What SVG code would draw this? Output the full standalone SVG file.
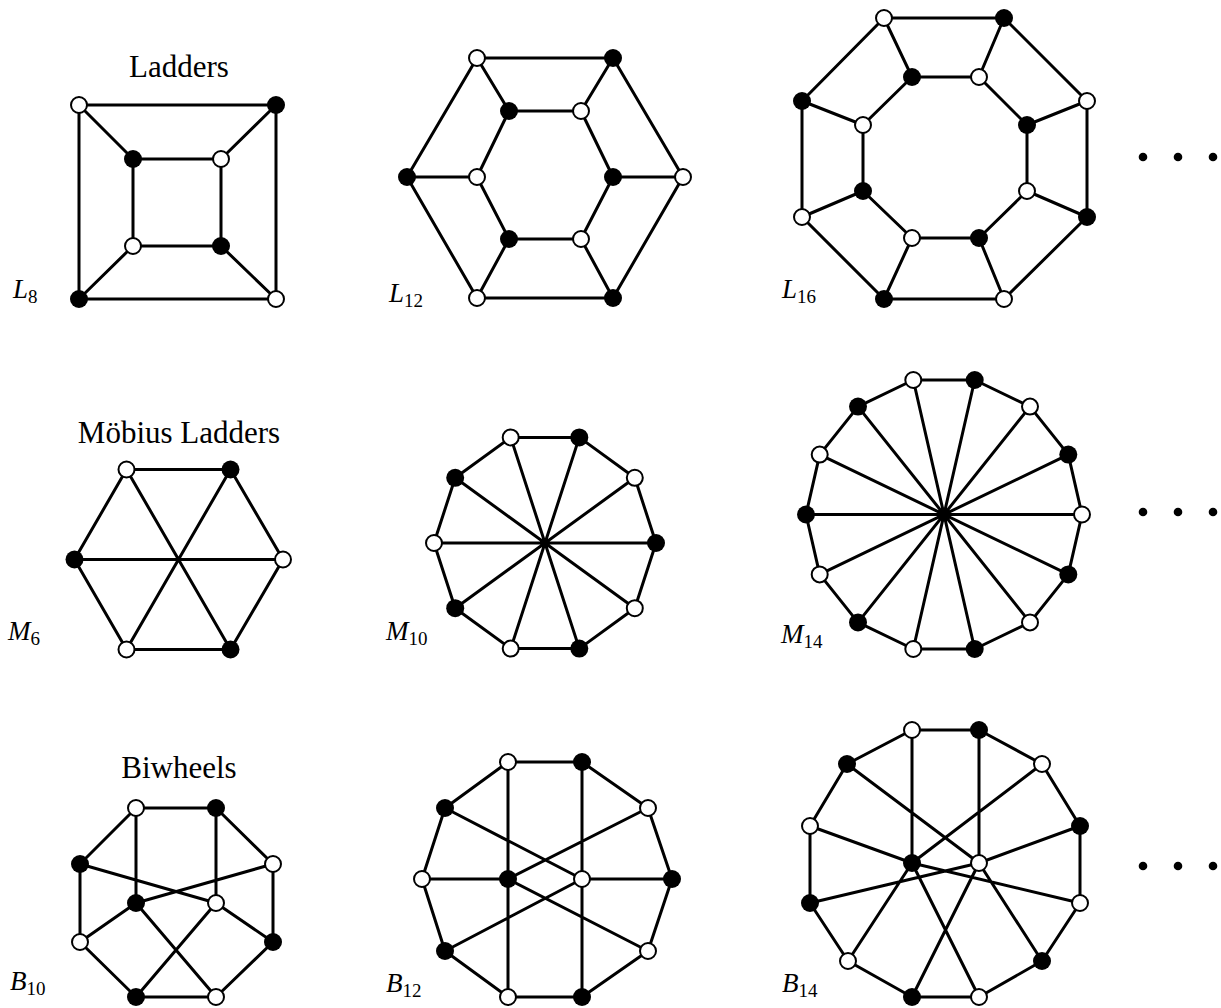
<svg xmlns="http://www.w3.org/2000/svg" width="1221" height="1008" viewBox="0 0 1221 1008">
<style>
.e{fill:none;stroke:#000;stroke-width:3;stroke-linejoin:round;stroke-linecap:round}
.w{fill:#fff;stroke:#000;stroke-width:2}
.b{fill:#000}
.t{font-family:"Liberation Serif",serif;font-size:31px;text-anchor:middle}
.lbl{font-family:"Liberation Serif",serif;font-style:italic;font-size:27px}
.sub{font-style:normal;font-size:19px}
</style>
<rect width="1221" height="1008" fill="#fff"/>
<g id="titles">
<text class="t" x="179" y="77">Ladders</text>
<text class="t" x="179" y="443">Möbius Ladders</text>
<text class="t" x="179" y="778">Biwheels</text>
</g>
<g id="labels">
<text class="lbl" x="13" y="298">L<tspan class="sub" dy="5">8</tspan></text>
<text class="lbl" x="389" y="302">L<tspan class="sub" dy="5">12</tspan></text>
<text class="lbl" x="782" y="298">L<tspan class="sub" dy="5">16</tspan></text>
<text class="lbl" x="8" y="640">M<tspan class="sub" dy="5">6</tspan></text>
<text class="lbl" x="386" y="640">M<tspan class="sub" dy="5">10</tspan></text>
<text class="lbl" x="781" y="643">M<tspan class="sub" dy="5">14</tspan></text>
<text class="lbl" x="10" y="990">B<tspan class="sub" dy="5">10</tspan></text>
<text class="lbl" x="386" y="992">B<tspan class="sub" dy="5">12</tspan></text>
<text class="lbl" x="782" y="992">B<tspan class="sub" dy="5">14</tspan></text>
</g>
<g id="connectors">
<path class="e" d="M79,105H276V299H79Z M133,159H221V246H133Z M79,105L133,159 M276,105L221,159 M276,299L221,246 M79,299L133,246"/>
<path class="e" d="M477,58L613,58L683,177L613,298L477,298L407,177Z M509,111L581,111L613,177L581,239L509,239L477,177Z M477,58L509,111 M613,58L581,111 M683,177L613,177 M613,298L581,239 M477,298L509,239 M407,177L477,177"/>
<path class="e" d="M884,18L1004,18L1087,101L1087,217L1004,299L884,299L802,217L802,101Z M912,77L979,77L1027,125L1027,191L979,238L912,238L863,191L863,125Z M884,18L912,77 M1004,18L979,77 M1087,101L1027,125 M1087,217L1027,191 M1004,299L979,238 M884,299L912,238 M802,217L863,191 M802,101L863,125"/>
<path class="e" d="M283,559.5L230.5,469.5L126.5,469.5L74.5,559.5L126.5,649.5L230.5,649.5Z M74.5,559.5L283,559.5 M126.5,469.5L230.5,649.5 M230.5,469.5L126.5,649.5"/>
<path class="e" d="M656,543L634.8,477.8L579.3,437.4L510.7,437.4L455.2,477.8L434,543L455.2,608.2L510.7,648.6L579.3,648.6L634.8,608.2Z M656,543L434,543 M634.8,477.8L455.2,608.2 M579.3,437.4L510.7,648.6 M510.7,437.4L579.3,648.6 M455.2,477.8L634.8,608.2"/>
<path class="e" d="M1082,514.5L1068.3,454.6L1030,406.6L974.7,380L913.3,380L858,406.6L819.7,454.6L806,514.5L819.7,574.4L858,622.4L913.3,649L974.7,649L1030,622.4L1068.3,574.4Z M1082,514.5L806,514.5 M1068.3,454.6L819.7,574.4 M1030,406.6L858,622.4 M974.7,380L913.3,649 M913.3,380L974.7,649 M858,406.6L1030,622.4 M819.7,454.6L1068.3,574.4"/>
<path class="e" d="M136,808L216,808L273,864L273,942L216,997L136,997L80,942L80,864Z M136,808L136,903 M216,808L216,903 M80,864L216,903 M273,864L136,903 M136,903L80,942 M216,903L273,942 M136,903L216,997 M216,903L136,997"/>
<path class="e" d="M508,762L582,762L648,808L672,879L648,951L582,997L508,997L445,951L422,879L445,808Z M508,762L508,997 M582,762L582,997 M422,879L508,879 M582,879L672,879 M445,808L582,879 M648,808L508,879 M445,951L582,879 M648,951L508,879"/>
<path class="e" d="M912,730L979,730L1042,764L1080,826L1080,903L1042,961L979,997L912,997L848,961L810,903L810,826L847,764Z M912,730L912,863 M979,730L979,863 M847,764L979,863 M1042,764L912,863 M810,826L912,863 M1080,826L979,863 M810,903L979,863 M1080,903L912,863 M848,961L912,863 M1042,961L979,863 M912,997L979,863 M979,997L912,863"/>
</g>
<g id="L8">
<g id="l8-1"><circle class="w" cx="79" cy="105" r="8"/></g>
<g id="l8-2"><circle class="b" cx="276" cy="105" r="9"/></g>
<g id="l8-3"><circle class="w" cx="276" cy="299" r="8"/></g>
<g id="l8-4"><circle class="b" cx="79" cy="299" r="9"/></g>
<g id="l8-5"><circle class="b" cx="133" cy="159" r="9"/></g>
<g id="l8-6"><circle class="w" cx="221" cy="159" r="8"/></g>
<g id="l8-7"><circle class="b" cx="221" cy="246" r="9"/></g>
<g id="l8-8"><circle class="w" cx="133" cy="246" r="8"/></g>
</g>
<g id="L12">
<g id="l12-1"><circle class="w" cx="477" cy="58" r="8"/></g>
<g id="l12-2"><circle class="b" cx="613" cy="58" r="9"/></g>
<g id="l12-3"><circle class="w" cx="683" cy="177" r="8"/></g>
<g id="l12-4"><circle class="b" cx="613" cy="298" r="9"/></g>
<g id="l12-5"><circle class="w" cx="477" cy="298" r="8"/></g>
<g id="l12-6"><circle class="b" cx="407" cy="177" r="9"/></g>
<g id="l12-7"><circle class="b" cx="509" cy="111" r="9"/></g>
<g id="l12-8"><circle class="w" cx="581" cy="111" r="8"/></g>
<g id="l12-9"><circle class="b" cx="613" cy="177" r="9"/></g>
<g id="l12-10"><circle class="w" cx="581" cy="239" r="8"/></g>
<g id="l12-11"><circle class="b" cx="509" cy="239" r="9"/></g>
<g id="l12-12"><circle class="w" cx="477" cy="177" r="8"/></g>
</g>
<g id="L16">
<g id="l16-1"><circle class="w" cx="884" cy="18" r="8"/></g>
<g id="l16-2"><circle class="b" cx="1004" cy="18" r="9"/></g>
<g id="l16-3"><circle class="w" cx="1087" cy="101" r="8"/></g>
<g id="l16-4"><circle class="b" cx="1087" cy="217" r="9"/></g>
<g id="l16-5"><circle class="w" cx="1004" cy="299" r="8"/></g>
<g id="l16-6"><circle class="b" cx="884" cy="299" r="9"/></g>
<g id="l16-7"><circle class="w" cx="802" cy="217" r="8"/></g>
<g id="l16-8"><circle class="b" cx="802" cy="101" r="9"/></g>
<g id="l16-9"><circle class="b" cx="912" cy="77" r="9"/></g>
<g id="l16-10"><circle class="w" cx="979" cy="77" r="8"/></g>
<g id="l16-11"><circle class="b" cx="1027" cy="125" r="9"/></g>
<g id="l16-12"><circle class="w" cx="1027" cy="191" r="8"/></g>
<g id="l16-13"><circle class="b" cx="979" cy="238" r="9"/></g>
<g id="l16-14"><circle class="w" cx="912" cy="238" r="8"/></g>
<g id="l16-15"><circle class="b" cx="863" cy="191" r="9"/></g>
<g id="l16-16"><circle class="w" cx="863" cy="125" r="8"/></g>
</g>
<g id="M6">
<g id="m6-1"><circle class="w" cx="283" cy="559.5" r="8"/></g>
<g id="m6-2"><circle class="b" cx="230.5" cy="469.5" r="9"/></g>
<g id="m6-3"><circle class="w" cx="126.5" cy="469.5" r="8"/></g>
<g id="m6-4"><circle class="b" cx="74.5" cy="559.5" r="9"/></g>
<g id="m6-5"><circle class="w" cx="126.5" cy="649.5" r="8"/></g>
<g id="m6-6"><circle class="b" cx="230.5" cy="649.5" r="9"/></g>
</g>
<g id="M10">
<g id="m10-1"><circle class="b" cx="656" cy="543" r="9"/></g>
<g id="m10-2"><circle class="w" cx="634.8" cy="477.8" r="8"/></g>
<g id="m10-3"><circle class="b" cx="579.3" cy="437.4" r="9"/></g>
<g id="m10-4"><circle class="w" cx="510.7" cy="437.4" r="8"/></g>
<g id="m10-5"><circle class="b" cx="455.2" cy="477.8" r="9"/></g>
<g id="m10-6"><circle class="w" cx="434" cy="543" r="8"/></g>
<g id="m10-7"><circle class="b" cx="455.2" cy="608.2" r="9"/></g>
<g id="m10-8"><circle class="w" cx="510.7" cy="648.6" r="8"/></g>
<g id="m10-9"><circle class="b" cx="579.3" cy="648.6" r="9"/></g>
<g id="m10-10"><circle class="w" cx="634.8" cy="608.2" r="8"/></g>
</g>
<g id="M14">
<g id="m14-1"><circle class="w" cx="1082" cy="514.5" r="8"/></g>
<g id="m14-2"><circle class="b" cx="1068.3" cy="454.6" r="9"/></g>
<g id="m14-3"><circle class="w" cx="1030" cy="406.6" r="8"/></g>
<g id="m14-4"><circle class="b" cx="974.7" cy="380" r="9"/></g>
<g id="m14-5"><circle class="w" cx="913.3" cy="380" r="8"/></g>
<g id="m14-6"><circle class="b" cx="858" cy="406.6" r="9"/></g>
<g id="m14-7"><circle class="w" cx="819.7" cy="454.6" r="8"/></g>
<g id="m14-8"><circle class="b" cx="806" cy="514.5" r="9"/></g>
<g id="m14-9"><circle class="w" cx="819.7" cy="574.4" r="8"/></g>
<g id="m14-10"><circle class="b" cx="858" cy="622.4" r="9"/></g>
<g id="m14-11"><circle class="w" cx="913.3" cy="649" r="8"/></g>
<g id="m14-12"><circle class="b" cx="974.7" cy="649" r="9"/></g>
<g id="m14-13"><circle class="w" cx="1030" cy="622.4" r="8"/></g>
<g id="m14-14"><circle class="b" cx="1068.3" cy="574.4" r="9"/></g>
</g>
<g id="B10">
<g id="b10-1"><circle class="w" cx="136" cy="808" r="8"/></g>
<g id="b10-2"><circle class="b" cx="216" cy="808" r="9"/></g>
<g id="b10-3"><circle class="w" cx="273" cy="864" r="8"/></g>
<g id="b10-4"><circle class="b" cx="273" cy="942" r="9"/></g>
<g id="b10-5"><circle class="w" cx="216" cy="997" r="8"/></g>
<g id="b10-6"><circle class="b" cx="136" cy="997" r="9"/></g>
<g id="b10-7"><circle class="w" cx="80" cy="942" r="8"/></g>
<g id="b10-8"><circle class="b" cx="80" cy="864" r="9"/></g>
<g id="b10-9"><circle class="b" cx="136" cy="903" r="9"/></g>
<g id="b10-10"><circle class="w" cx="216" cy="903" r="8"/></g>
</g>
<g id="B12">
<g id="b12-1"><circle class="w" cx="508" cy="762" r="8"/></g>
<g id="b12-2"><circle class="b" cx="582" cy="762" r="9"/></g>
<g id="b12-3"><circle class="w" cx="648" cy="808" r="8"/></g>
<g id="b12-4"><circle class="b" cx="672" cy="879" r="9"/></g>
<g id="b12-5"><circle class="w" cx="648" cy="951" r="8"/></g>
<g id="b12-6"><circle class="b" cx="582" cy="997" r="9"/></g>
<g id="b12-7"><circle class="w" cx="508" cy="997" r="8"/></g>
<g id="b12-8"><circle class="b" cx="445" cy="951" r="9"/></g>
<g id="b12-9"><circle class="w" cx="422" cy="879" r="8"/></g>
<g id="b12-10"><circle class="b" cx="445" cy="808" r="9"/></g>
<g id="b12-11"><circle class="b" cx="508" cy="879" r="9"/></g>
<g id="b12-12"><circle class="w" cx="582" cy="879" r="8"/></g>
</g>
<g id="B14">
<g id="b14-1"><circle class="w" cx="912" cy="730" r="8"/></g>
<g id="b14-2"><circle class="b" cx="979" cy="730" r="9"/></g>
<g id="b14-3"><circle class="w" cx="1042" cy="764" r="8"/></g>
<g id="b14-4"><circle class="b" cx="1080" cy="826" r="9"/></g>
<g id="b14-5"><circle class="w" cx="1080" cy="903" r="8"/></g>
<g id="b14-6"><circle class="b" cx="1042" cy="961" r="9"/></g>
<g id="b14-7"><circle class="w" cx="979" cy="997" r="8"/></g>
<g id="b14-8"><circle class="b" cx="912" cy="997" r="9"/></g>
<g id="b14-9"><circle class="w" cx="848" cy="961" r="8"/></g>
<g id="b14-10"><circle class="b" cx="810" cy="903" r="9"/></g>
<g id="b14-11"><circle class="w" cx="810" cy="826" r="8"/></g>
<g id="b14-12"><circle class="b" cx="847" cy="764" r="9"/></g>
<g id="b14-13"><circle class="b" cx="912" cy="863" r="9"/></g>
<g id="b14-14"><circle class="w" cx="979" cy="863" r="8"/></g>
</g>
<g id="ellipses">
<circle class="b" cx="1143" cy="157" r="4.3"/><circle class="b" cx="1178" cy="157" r="4.3"/><circle class="b" cx="1213" cy="157" r="4.3"/>
<circle class="b" cx="1143" cy="512" r="4.3"/><circle class="b" cx="1178" cy="512" r="4.3"/><circle class="b" cx="1213" cy="512" r="4.3"/>
<circle class="b" cx="1143" cy="866" r="4.3"/><circle class="b" cx="1178" cy="866" r="4.3"/><circle class="b" cx="1213" cy="866" r="4.3"/>
</g>
</svg>
